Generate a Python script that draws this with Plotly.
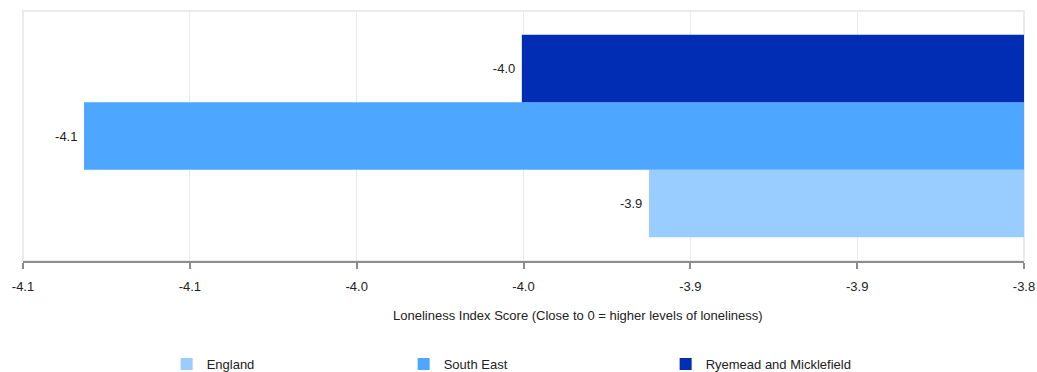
import plotly.graph_objects as go

# Hodnoty odčítané z grafu
areas = ["England", "South East", "Ryemead and Micklefield"]
scores = [-3.9124, -4.0817, -3.9505]
colors = ["#99ccff", "#4da6ff", "#002db3"]
legend_widths = [192, 217, 170]

tick_vals = [-4.10, -4.05, -4.00, -3.95, -3.90, -3.85, -3.80]
tick_text = ["-4.1", "-4.1", "-4.0", "-4.0", "-3.9", "-3.9", "-3.8"]

font = "Liberation Sans, Arial, sans-serif"

fig = go.Figure()

for name, val, col, lw in zip(areas, scores, colors, legend_widths):
    fig.add_trace(go.Bar(
        y=["Score"], x=[val],
        orientation="h",
        name=name,
        marker=dict(color=col, line=dict(width=0)),
        texttemplate="%{x:.1f}\u00a0",
        textposition="outside",
        textfont=dict(size=13, color="#222", family=font),
        legendwidth=lw,
        hoverinfo="name+x",
    ))

fig.update_layout(
    width=1037, height=372,
    margin=dict(l=23, r=13, t=11, b=111, autoexpand=False),
    barmode="group",
    bargap=0.19,
    bargroupgap=0,
    plot_bgcolor="white",
    paper_bgcolor="white",
    font=dict(family=font, size=13, color="#222"),
    showlegend=True,
    legend=dict(
        orientation="h",
        x=0.1435, xanchor="left",
        y=-0.412, yanchor="middle",
        font=dict(size=13, color="#222"),
        traceorder="normal",
    ),
    xaxis=dict(
        range=[-4.1, -3.8],
        tickvals=tick_vals,
        ticktext=tick_text,
        showgrid=True, gridcolor="#ebebeb", gridwidth=1,
        showline=True, linecolor="#8c8c8c", linewidth=2,
        ticks="outside", ticklen=6, tickcolor="#8c8c8c", tickwidth=2,
        ticklabelstandoff=6,
        tickfont=dict(size=13, color="#222"),
        zeroline=False,
        fixedrange=True,
    ),
    yaxis=dict(
        showticklabels=False,
        showgrid=False,
        zeroline=False,
        fixedrange=True,
    ),
    shapes=[dict(
        type="rect", xref="paper", yref="paper",
        x0=0, x1=1, y0=0, y1=1,
        line=dict(color="#ebebeb", width=2),
        layer="below",
    )],
    annotations=[dict(
        text="Loneliness Index Score (Close to 0 = higher levels of loneliness)",
        xref="paper", yref="paper",
        x=0.5545, y=-0.216, xanchor="center", yanchor="middle",
        showarrow=False,
        font=dict(size=13, color="#222"),
    )],
)

# Odstránenie okraja stránky, aby graf sedel presne v okne
fig.write_html(
    "out.html",
    config={"displayModeBar": False},
    post_script="document.body.style.margin='0';",
)
